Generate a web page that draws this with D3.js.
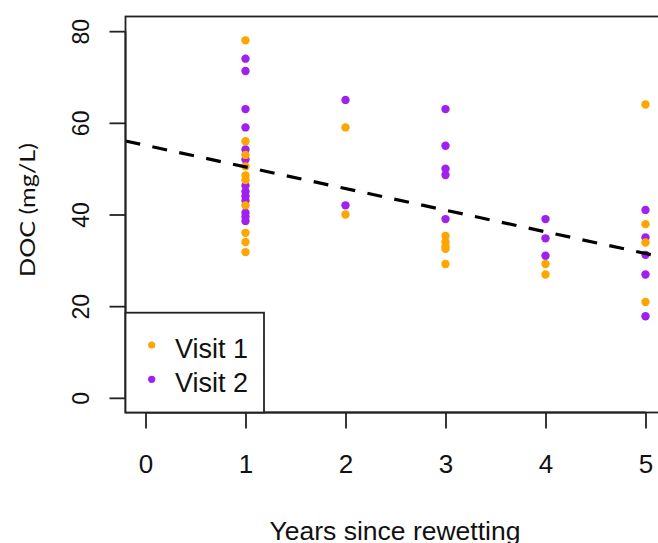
<!DOCTYPE html>
<html>
<head>
<meta charset="utf-8">
<script src="https://cdn.jsdelivr.net/npm/d3@7"></script>
<style>
html,body{margin:0;padding:0;background:#fff;}
svg{display:block;}
</style>
</head>
<body>
<svg id="chart" width="658" height="543"></svg>
<script>
// ---- data ----
const visit1Years  = [1,1,1,1,1,1,1,1,1,1, 2,2, 3,3,3,3,3, 4,4, 5,5,5,5];
const visit1Values = [78,56,53,50.5,48.5,47.5,42,36,34,31.8, 59,40, 35.3,34,33,32.5,29.2, 29.2,26.9, 64,37.9,33.9,20.9];
const visit2Years  = [1,1,1,1,1,1,1,1,1,1,1,1,1, 2,2, 3,3,3,3,3, 4,4,4, 5,5,5,5,5];
const visit2Values = [74,71.3,63,59,54.2,52,46.3,45,44,43,40.4,39.5,38.6, 65,42, 63,55,50,48.6,39, 39,34.8,31, 41,35,31.2,26.9,17.8];
const xTicks = [0,1,2,3,4,5];
const yTicks = [0,20,40,60,80];
const fitIntercept = 55.1;
const fitSlope = -4.72;
const seriesNames = ["Visit 1","Visit 2"];
const seriesColors = ["#FFA500","#A020F0"];

// ---- layout ----
const svg = d3.select("#chart");
const x = d3.scaleLinear().domain([-0.2,5.2]).range([125.5,665.5]);
const y = d3.scaleLinear().domain([-3.2,83.2]).range([412.5,16.5]);
const ink = "#222";
const sans = "'Liberation Sans', Arial, sans-serif";

// points (visit 2 first, then visit 1)
const g = svg.append("g");
g.selectAll("circle.v2").data(d3.zip(visit2Years, visit2Values)).join("circle")
  .attr("class","v2").attr("cx",d=>x(d[0])).attr("cy",d=>y(d[1])).attr("r",4.2)
  .attr("fill",seriesColors[1]);
g.selectAll("circle.v1").data(d3.zip(visit1Years, visit1Values)).join("circle")
  .attr("class","v1").attr("cx",d=>x(d[0])).attr("cy",d=>y(d[1])).attr("r",4.2)
  .attr("fill",seriesColors[0]);

// regression line
const xd = x.domain();
svg.append("line")
  .attr("x1",x(xd[0])).attr("y1",y(fitIntercept+fitSlope*xd[0]))
  .attr("x2",x(xd[1])).attr("y2",y(fitIntercept+fitSlope*xd[1]))
  .attr("stroke","#000").attr("stroke-width",3.2).attr("stroke-dasharray","15,12.5");

// box
svg.append("rect").attr("x",x(xd[0])).attr("y",y(83.2)).attr("width",x(xd[1])-x(xd[0])).attr("height",y(-3.2)-y(83.2))
  .attr("fill","none").attr("stroke",ink).attr("stroke-width",1.8);

// x axis
const xAxis = svg.append("g").attr("transform",`translate(0,${y(-3.2)})`)
  .call(d3.axisBottom(x).tickValues(xTicks).tickSize(16).tickSizeOuter(0).tickPadding(26).tickFormat(d3.format("d")));
xAxis.select(".domain").attr("d",`M${x(0)},0H${x(5)}`).attr("stroke",ink).attr("stroke-width",1.8);
xAxis.selectAll(".tick line").attr("stroke",ink).attr("stroke-width",1.8);
xAxis.selectAll(".tick text").attr("font-family",sans).attr("font-size",26).attr("fill","#111")
  .attr("dy",null).attr("y",60);

// y axis
const yAxis = svg.append("g").attr("transform",`translate(${x(-0.2)},0)`)
  .call(d3.axisLeft(y).tickValues(yTicks).tickSize(16).tickSizeOuter(0).tickFormat(d3.format("d")));
yAxis.select(".domain").attr("d",`M0,${y(0)}V${y(80)}`).attr("stroke",ink).attr("stroke-width",1.8);
yAxis.selectAll(".tick line").attr("stroke",ink).attr("stroke-width",1.8);
yAxis.selectAll(".tick text").attr("font-family",sans).attr("font-size",23).attr("fill","#111")
  .attr("x",null).attr("dy",null)
  .attr("text-anchor","middle")
  .attr("transform","translate(-45,0) rotate(-90) translate(0,8)");

// axis titles
svg.append("text").attr("x",395).attr("y",540).attr("text-anchor","middle")
  .attr("font-family",sans).attr("font-size",26.5).attr("fill","#111").text("Years since rewetting");
svg.append("text").attr("transform","translate(35,210) rotate(-90)").attr("text-anchor","middle")
  .attr("font-family","Lato, 'Open Sans', sans-serif").attr("font-size",22).attr("fill","#111")
  .attr("textLength",134).attr("lengthAdjust","spacingAndGlyphs").text("DOC (mg/L)");

// legend
const lg = svg.append("g");
lg.append("rect").attr("x",x(-0.2)).attr("y",312.7).attr("width",264-x(-0.2)).attr("height",y(-3.2)-312.7)
  .attr("fill","#fff").attr("stroke",ink).attr("stroke-width",1.8);
const rows = lg.selectAll("g.row").data(seriesNames).join("g").attr("class","row")
  .attr("transform",(d,i)=>`translate(0,${345+i*34.3})`);
rows.append("circle").attr("cx",151.7).attr("cy",0).attr("r",3.6).attr("fill",(d,i)=>seriesColors[i]);
rows.append("text").attr("x",175).attr("y",13).attr("font-family",sans).attr("font-size",27).attr("fill","#111").text(d=>d);
</script>
</body>
</html>
